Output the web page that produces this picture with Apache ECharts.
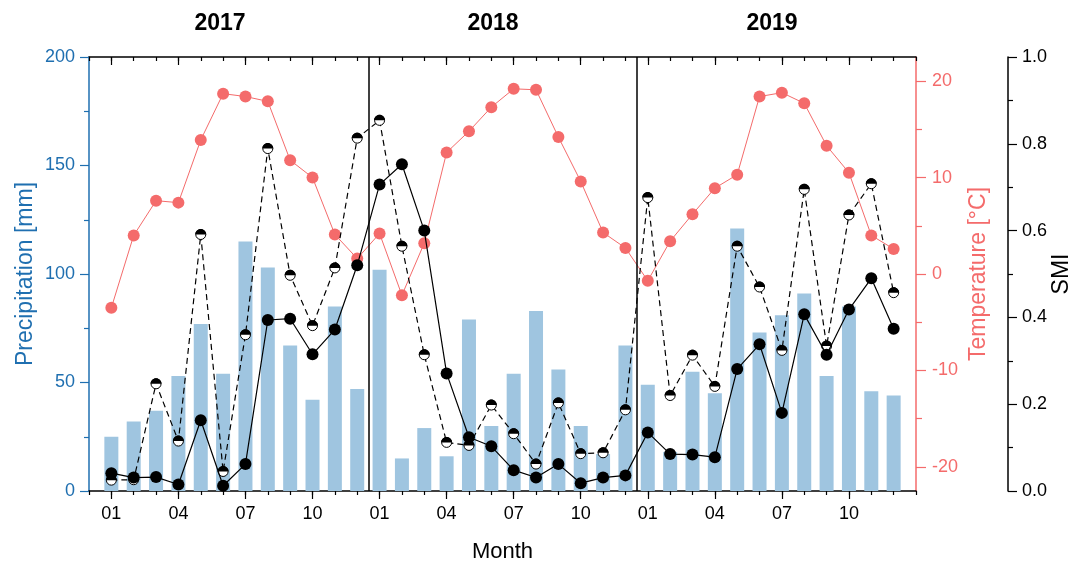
<!DOCTYPE html>
<html>
<head>
<meta charset="utf-8">
<script src="https://cdn.jsdelivr.net/npm/echarts@6/dist/echarts.min.js"></script>
<style>html,body{margin:0;padding:0;background:#fff}#c{width:1074px;height:563px}</style>
</head>
<body>
<div id="c"></div>
<script>
const years = ['2017', '2018', '2019'];
const months = ['01','02','03','04','05','06','07','08','09','10','11','12'];
const labeledMonths = ['01','04','07','10'];
const categories = years.flatMap(y => months.map(m => y + '-' + m));

const precipitation = [25, 32, 37, 53, 77, 54, 115, 103, 67, 42, 85, 47,
                       102, 15, 29, 16, 79, 30, 54, 83, 56, 30, 17, 67,
                       49, 18, 55, 45, 121, 73, 81, 91, 53, 85, 46, 44];
const temperature = [-3.5, 4.0, 7.6, 7.4, 13.9, 18.7, 18.4, 17.9, 11.8, 10.0, 4.1, 1.6,
                     4.2, -2.2, 3.2, 12.6, 14.8, 17.3, 19.2, 19.1, 14.2, 9.6, 4.3, 2.7,
                     -0.7, 3.4, 6.2, 8.9, 10.3, 18.4, 18.8, 17.7, 13.3, 10.5, 4.0, 2.6];
const smiSolid = [0.041, 0.031, 0.032, 0.015, 0.163, 0.012, 0.062, 0.394, 0.397, 0.315, 0.372, 0.520,
                  0.706, 0.753, 0.600, 0.271, 0.124, 0.103, 0.048, 0.031, 0.062, 0.018, 0.031, 0.036,
                  0.135, 0.085, 0.084, 0.078, 0.281, 0.338, 0.180, 0.407, 0.314, 0.418, 0.490, 0.374];
const smiDashed = [0.025, 0.026, 0.247, 0.115, 0.591, 0.045, 0.360, 0.789, 0.497, 0.381, 0.514, 0.813,
                   0.854, 0.564, 0.314, 0.112, 0.105, 0.198, 0.132, 0.062, 0.203, 0.086, 0.088, 0.187,
                   0.676, 0.220, 0.313, 0.241, 0.564, 0.470, 0.324, 0.695, 0.334, 0.636, 0.708, 0.457];
const precipTicks = [0, 50, 100, 150, 200];
const tempTicks = [-20, -10, 0, 10, 20];
const tempMinorTicks = [-15, -5, 5, 15];

const FONT = 'Liberation Sans, Arial, sans-serif';
const BLUE = '#1f6fb0';
const RED = '#f46b6b';
const BAR = '#9fc5e0';
const HALF = 'path://M0,10 C0,4.477 4.477,0 10,0 C15.523,0 20,4.477 20,10 Z M0,20 L20,20 L20,19.99 L0,19.99 Z';

const monthOf = categories.map(c => c.split('-')[1]);
const pos = categories.map((c, i) => i + 1);
const labelPos = pos.filter((p, i) => labeledMonths.includes(monthOf[i]));
const pairs = arr => arr.map((v, i) => [pos[i], v]);

const chart = echarts.init(document.getElementById('c'), null, {renderer: 'canvas'});

const xBase = {type: 'value', min: 0, max: categories.length + 1, splitLine: {show: false}};

const option = {
  animation: false,
  backgroundColor: '#fff',
  grid: {left: 89, right: 158, top: 57, bottom: 72, outerBoundsMode: 'none'},
  xAxis: [
    Object.assign({}, xBase, {
      position: 'bottom', interval: 1,
      axisLine: {onZero: false, lineStyle: {color: '#000', width: 1.5}},
      axisTick: {length: 4, lineStyle: {color: '#000', width: 1.2}},
      axisLabel: {show: false},
      name: 'Month', nameLocation: 'middle', nameGap: 50, nameMoveOverlap: false,
      nameTextStyle: {fontFamily: FONT, fontSize: 22, color: '#000'}
    }),
    Object.assign({}, xBase, {
      position: 'bottom',
      axisLine: {show: false, onZero: false},
      axisTick: {customValues: labelPos, length: 8, lineStyle: {color: '#000', width: 1.2}},
      axisLabel: {customValues: labelPos, formatter: v => monthOf[v - 1], fontFamily: FONT, fontSize: 18, color: '#000', margin: 14}
    }),
    Object.assign({}, xBase, {
      position: 'top', interval: 1,
      axisLine: {onZero: false, lineStyle: {color: '#000', width: 1.5}},
      axisTick: {inside: true, length: 4, lineStyle: {color: '#000', width: 1.2}},
      axisLabel: {show: false}
    }),
    Object.assign({}, xBase, {
      position: 'top',
      axisLine: {show: false, onZero: false},
      axisTick: {inside: true, customValues: labelPos, length: 8, lineStyle: {color: '#000', width: 1.2}},
      axisLabel: {show: false}
    })
  ],
  yAxis: [
    {
      type: 'value', position: 'left', min: 0, max: 200, interval: 50,
      splitLine: {show: false},
      axisLine: {show: true, onZero: false, lineStyle: {color: BLUE, width: 1.5}},
      axisTick: {show: true, length: 9, lineStyle: {color: BLUE, width: 1.2}},
      minorTick: {show: true, splitNumber: 2, length: 5, lineStyle: {color: BLUE, width: 1.2}},
      axisLabel: {customValues: precipTicks, color: BLUE, fontFamily: FONT, fontSize: 18, margin: 14},
      name: 'Precipitation [mm]', nameLocation: 'middle', nameGap: 52, nameMoveOverlap: false,
      nameTextStyle: {color: BLUE, fontFamily: FONT, fontSize: 23}
    },
    {
      type: 'value', position: 'right', min: -22.5, max: 22.5,
      splitLine: {show: false},
      axisLine: {show: true, onZero: false, lineStyle: {color: RED, width: 1.5}},
      axisTick: {show: true, customValues: tempTicks, length: 10, lineStyle: {color: RED, width: 1.2}},
      axisLabel: {customValues: tempTicks, color: RED, fontFamily: FONT, fontSize: 18, margin: 16},
      name: 'Temperature [°C]', nameLocation: 'middle', nameGap: 51, nameMoveOverlap: false,
      nameTextStyle: {color: RED, fontFamily: FONT, fontSize: 23}
    },
    {
      type: 'value', position: 'right', min: -22.5, max: 22.5,
      splitLine: {show: false},
      axisLine: {show: false, onZero: false},
      axisTick: {show: true, customValues: tempMinorTicks, length: 6, lineStyle: {color: RED, width: 1.2}},
      axisLabel: {show: false}
    },
    {
      type: 'value', position: 'right', offset: 92, min: 0, max: 1, interval: 0.2,
      splitLine: {show: false},
      axisLine: {show: true, onZero: false, lineStyle: {color: '#000', width: 1.5}},
      axisTick: {show: true, length: 9, lineStyle: {color: '#000', width: 1.2}},
      minorTick: {show: true, splitNumber: 2, length: 5, lineStyle: {color: '#000', width: 1.2}},
      axisLabel: {formatter: v => v.toFixed(1), color: '#000', fontFamily: FONT, fontSize: 18, margin: 14},
      name: 'SMI', nameLocation: 'middle', nameGap: 42, nameMoveOverlap: false,
      nameTextStyle: {color: '#000', fontFamily: FONT, fontSize: 23}
    }
  ],
  graphic: [
    {type: 'text', x: 220, y: 24, style: {text: years[0], font: 'bold 23px ' + FONT, fill: '#000', textAlign: 'center', textVerticalAlign: 'middle'}},
    {type: 'text', x: 493, y: 24, style: {text: years[1], font: 'bold 23px ' + FONT, fill: '#000', textAlign: 'center', textVerticalAlign: 'middle'}},
    {type: 'text', x: 772, y: 24, style: {text: years[2], font: 'bold 23px ' + FONT, fill: '#000', textAlign: 'center', textVerticalAlign: 'middle'}}
  ],
  series: [
    {
      type: 'bar', xAxisIndex: 0, yAxisIndex: 0, data: pairs(precipitation), barWidth: 14,
      itemStyle: {color: BAR}, z: 1,
      markLine: {
        silent: true, symbol: 'none', label: {show: false},
        lineStyle: {color: '#000', type: 'solid', width: 1.5},
        data: [{xAxis: 12.5}, {xAxis: 24.5}]
      }
    },
    {
      type: 'line', yAxisIndex: 1, data: pairs(temperature), z: 2,
      symbol: 'circle', symbolSize: 12,
      itemStyle: {color: RED}, lineStyle: {color: RED, width: 1}
    },
    {
      type: 'line', yAxisIndex: 3, data: pairs(smiDashed), z: 3,
      symbol: 'circle', symbolSize: 10,
      itemStyle: {color: '#fff', borderColor: '#000', borderWidth: 1},
      lineStyle: {color: '#000', width: 1.2, type: [6, 4]}
    },
    {
      type: 'scatter', yAxisIndex: 3, data: pairs(smiDashed), z: 4,
      symbol: HALF, symbolSize: 11,
      itemStyle: {color: '#000', opacity: 1}
    },
    {
      type: 'line', yAxisIndex: 3, data: pairs(smiSolid), z: 5,
      symbol: 'circle', symbolSize: 12,
      itemStyle: {color: '#000'}, lineStyle: {color: '#000', width: 1.2}
    }
  ]
};
chart.setOption(option);
</script>
</body>
</html>
